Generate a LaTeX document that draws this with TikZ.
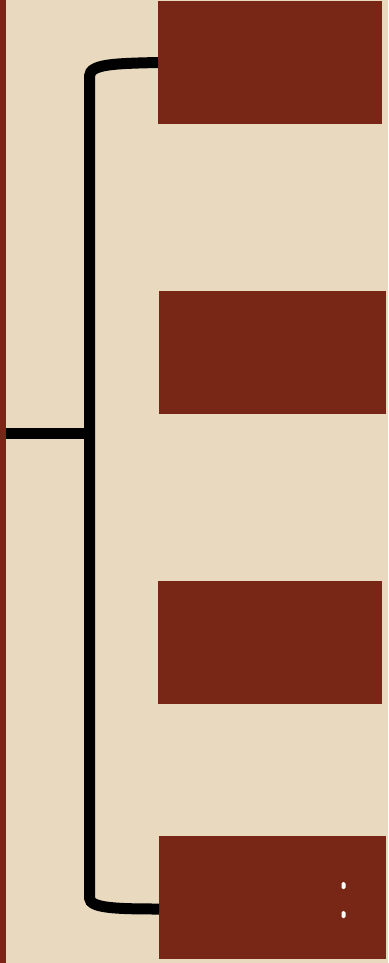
\documentclass[tikz,border=0pt]{standalone}
\definecolor{bg}{HTML}{E8D9BF}
\definecolor{brick}{HTML}{782615}
\begin{document}
\begin{tikzpicture}[x=1pt,y=-1pt,
  box/.style={fill=brick, draw=none, inner sep=0pt, outer sep=0pt, anchor=north west},
  brace/.style={line width=11pt, black},
  stem/.style={line width=11pt, black},
  dot/.style={fill=white, draw=none, rounded corners=1.5pt}]
\fill[bg] (0,0) rectangle (388,963);
\useasboundingbox (0,0) rectangle (388,963);
\node[box, minimum width=6pt, minimum height=963pt] (strip) at (0,0) {};
\node[box, minimum width=224pt, minimum height=123pt] (b1) at (158,1) {};
\node[box, minimum width=227pt, minimum height=123pt] (b2) at (159,291) {};
\node[box, minimum width=224pt, minimum height=123pt] (b3) at (158,581) {};
\node[box, minimum width=227pt, minimum height=123pt] (b4) at (159,836) {};
\coordinate (top) at (89.5,76);
\coordinate (bot) at (89.5,898);
\coordinate (spine) at (89.5,433.5);
\draw[brace] (b1.west) .. controls (115,63.5) and (90,64) .. (top) -- (bot) .. controls (90,908) and (115,909) .. ([yshift=-11.5pt]b4.west);
\draw[stem] (strip.east |- spine) -- (spine);
\fill[dot] (341.5,882) rectangle (345.5,889);
\fill[dot] (341.5,911) rectangle (345.5,918);
\end{tikzpicture}
\end{document}
